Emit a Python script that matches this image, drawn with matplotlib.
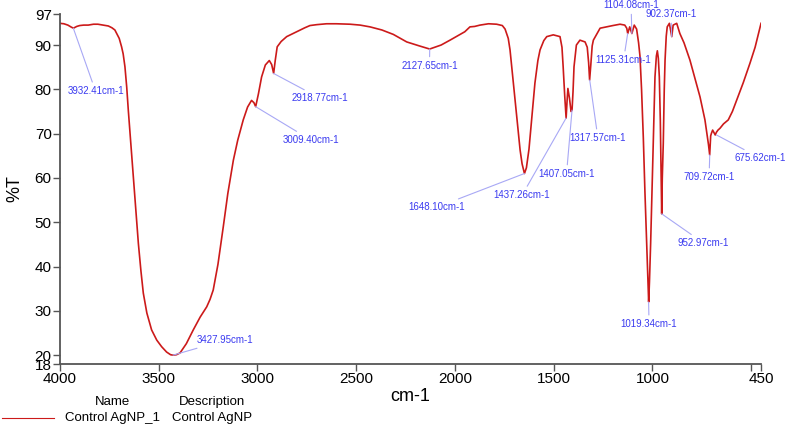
import matplotlib.pyplot as plt

plt.rcParams['font.family'] = ['Liberation Sans', 'DejaVu Sans']

# FTIR spectrum (wavenumber cm-1, %T)
wavenumber = [4000, 3980, 3960, 3945, 3932, 3915, 3900, 3880, 3857, 3830, 3808,
              3780, 3755, 3737, 3722, 3713, 3700, 3688, 3680, 3671, 3662, 3654,
              3640, 3629, 3615, 3603, 3590, 3578, 3560, 3536, 3510, 3485, 3460,
              3440, 3428, 3410, 3392, 3360, 3325, 3290, 3257, 3240, 3224, 3200,
              3173, 3150, 3122, 3100, 3072, 3050, 3030, 3018, 3009, 2995, 2979,
              2960, 2940, 2928, 2918, 2910, 2900, 2880, 2852, 2801, 2760, 2734,
              2700, 2650, 2600, 2531, 2480, 2430, 2370, 2312, 2244, 2180, 2128,
              2070, 2025, 1974, 1950, 1924, 1900, 1873, 1830, 1789, 1760, 1746,
              1730, 1721, 1710, 1696, 1680, 1670, 1660, 1648, 1638, 1625, 1610,
              1595, 1580, 1569, 1550, 1535, 1502, 1468, 1458, 1452, 1444, 1437,
              1432, 1428, 1420, 1412, 1407, 1402, 1397, 1385, 1367, 1341, 1330,
              1323, 1318, 1312, 1305, 1299, 1265, 1200, 1164, 1140, 1130, 1125,
              1115, 1104, 1092, 1080, 1070, 1063, 1055, 1046, 1038, 1029, 1022,
              1019, 1015, 1009, 1002, 996, 987, 980, 975, 970, 965, 960, 956, 953,
              950, 945, 940, 936, 930, 925, 914, 902, 895, 877, 861, 840, 810,
              785, 759, 734, 722, 716, 710, 705, 701, 695, 689, 682, 676, 668, 658,
              640, 616, 595, 573, 540, 506, 480, 450]
transmittance = [94.9, 94.8, 94.5, 94.1, 93.8, 94.2, 94.4, 94.5, 94.5, 94.7, 94.7,
                 94.5, 94.3, 93.9, 93.4, 92.6, 91.5, 89.6, 88.0, 85.1, 80.5, 75.3,
                 67.0, 60.3, 52.5, 45.2, 39.0, 34.0, 29.5, 25.7, 23.4, 21.9, 20.7,
                 20.1, 20.0, 20.1, 20.5, 22.6, 25.7, 28.6, 30.9, 32.6, 34.7, 40.5,
                 49.0, 56.5, 64.0, 68.5, 73.1, 76.0, 77.5, 77.0, 76.1, 79.0, 82.8,
                 85.5, 86.5, 85.6, 83.6, 86.5, 89.6, 90.8, 91.9, 93.0, 93.9, 94.4,
                 94.6, 94.8, 94.8, 94.7, 94.5, 94.1, 93.4, 92.4, 90.7, 89.8, 89.1,
                 90.0, 91.1, 92.4, 93.0, 94.1, 94.2, 94.5, 94.8, 94.7, 94.4, 93.6,
                 91.5, 88.9, 84.0, 77.6, 70.5, 66.3, 63.2, 61.0, 62.3, 66.5, 74.0,
                 81.4, 86.5, 88.9, 91.0, 91.9, 92.3, 91.9, 89.5, 85.1, 78.5, 73.5,
                 77.5, 80.2, 78.0, 75.0, 75.3, 79.5, 85.1, 90.0, 91.1, 90.7, 89.5,
                 86.0, 82.1, 85.5, 89.8, 91.1, 93.8, 94.4, 94.7, 94.5, 93.8, 92.6,
                 94.1, 92.6, 94.5, 93.6, 90.5, 87.5, 80.0, 69.0, 57.0, 45.0, 36.0,
                 32.0, 36.5, 45.2, 57.0, 67.8, 82.8, 87.5, 88.7, 87.0, 82.8, 73.0,
                 60.0, 51.9, 60.0, 67.8, 80.0, 86.6, 92.0, 94.1, 94.9, 91.9, 94.5,
                 94.9, 92.6, 90.5, 86.6, 82.5, 78.3, 73.1, 69.3, 67.5, 65.2, 69.5,
                 70.1, 70.8, 70.3, 69.7, 70.3, 70.8, 71.2, 72.2, 73.1, 75.0, 77.6,
                 81.5, 85.9, 89.5, 94.9]

# labelled peaks: peak position, label position
peak_wn = [3932.41, 3427.95, 3009.40, 2918.77, 2127.65, 1648.10, 1437.26, 1407.05,
           1317.57, 1125.31, 1104.08, 1019.34, 952.97, 902.37, 709.72, 675.62]
peak_t = [93.8, 20.0, 76.1, 83.6, 89.1, 61.0, 73.5, 75.3,
          82.1, 92.6, 92.6, 32.0, 51.9, 91.9, 65.2, 69.7]
label_wn = [3820, 3162, 2731, 2683, 2129, 2091, 1660, 1435,
            1276, 1146, 1108, 1017, 741, 906, 713, 455]
label_t = [79.6, 23.4, 68.6, 78.0, 85.3, 53.4, 56.1, 60.9,
           69.0, 86.6, 99.0, 27.0, 45.3, 97.0, 60.2, 64.5]

x_ticks = [4000, 3500, 3000, 2500, 2000, 1500, 1000, 500, 450]
x_labels = ['4000', '3500', '3000', '2500', '2000', '1500', '1000', '', '450']
y_ticks = [97, 90, 80, 70, 60, 50, 40, 30, 20, 18]

fig = plt.figure(figsize=(7.87, 4.25), dpi=100)
ax = fig.add_axes([0.0762, 0.1435, 0.8908, 0.8235])

ax.plot(wavenumber, transmittance, color='#cc1a1a', lw=1.2)

for pw, pt, lw_, lt in zip(peak_wn, peak_t, label_wn, label_t):
    ax.annotate('%.2fcm-1' % pw, xy=(pw, pt), xytext=(lw_, lt),
                ha='center', va='center', fontsize=7, color='#3a3af0',
                annotation_clip=False,
                arrowprops=dict(arrowstyle='-', color='#a8a8f5', lw=0.8,
                                shrinkA=1, shrinkB=0))

ax.set_xlim(4000, 450)
ax.set_ylim(18, 97)
ax.set_xticks(x_ticks)
ax.set_xticklabels(x_labels)
ax.set_yticks(y_ticks)

for s in ['top', 'right']:
    ax.spines[s].set_visible(False)
for s in ['left', 'bottom']:
    ax.spines[s].set_color('#555555')
    ax.spines[s].set_linewidth(1.3)
ax.tick_params(direction='out', length=5, width=1, color='#555555',
               labelsize=11, pad=1)

ax.set_xlabel('cm-1', fontsize=13, labelpad=1)
ax.set_ylabel('%T', fontsize=13, labelpad=8)

# legend block below the axes
fig.text(0.143, 0.054, 'Name', fontsize=9.5, ha='center', va='center')
fig.text(0.270, 0.054, 'Description', fontsize=9.5, ha='center', va='center')
fig.add_artist(plt.Line2D([0.003, 0.068], [0.017, 0.017], color='#cc1a1a', lw=0.8))
fig.text(0.143, 0.017, 'Control AgNP_1', fontsize=9.5, ha='center', va='center')
fig.text(0.270, 0.017, 'Control AgNP', fontsize=9.5, ha='center', va='center')

plt.savefig('out.png', dpi=100)
